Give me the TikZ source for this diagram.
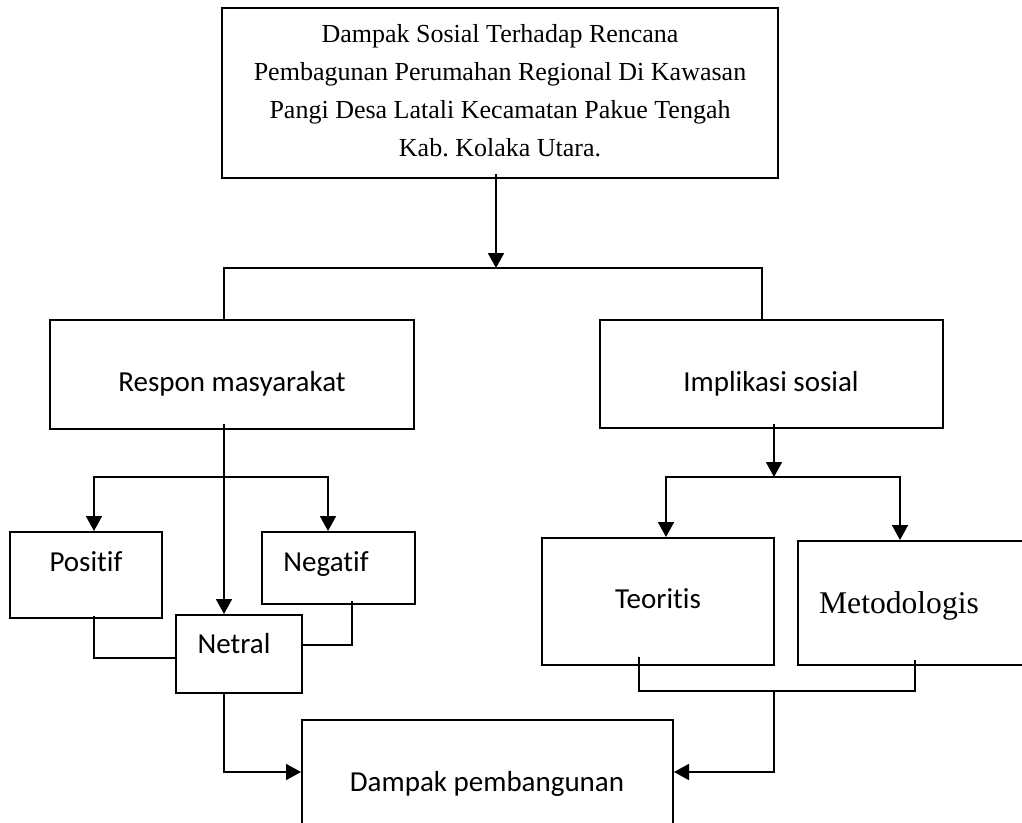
\documentclass[tikz,border=0pt]{standalone}
\usepackage{fontspec}
\setmainfont{Liberation Serif}
\setsansfont[Ligatures=NoCommon]{Carlito}
\usetikzlibrary{arrows.meta}
\frenchspacing

\begin{document}
\begin{tikzpicture}[
    % GLOBAL CFG
    x=1pt, y=-1pt,
    >={Triangle[length=15pt, width=16pt]},
    % Styles
    box/.style={
        rectangle,
        draw,
        line width=2pt,
        inner sep=0pt,
    },
    sanstxt/.style={
        font=\sffamily\fontsize{29}{34}\selectfont,
        anchor=base,
        inner sep=0pt,
    },
    seriftxt/.style={
        font=\fontsize{26}{38}\selectfont,
        align=center,
        inner sep=0pt,
    },
    conn/.style={
        line width=1.8pt,
    },
]

    % Page frame
    \useasboundingbox (0,0) rectangle (1022,822);
    \clip (0,0) rectangle (1022,822);

    % Draw the boxes
    \node [box, minimum width=556pt, minimum height=170pt] (top) at (500,93) {};
    \node [box, minimum width=364pt, minimum height=109pt] (respon) at (232,374.5) {};
    \node [box, minimum width=343pt, minimum height=108pt] (implikasi) at (771.5,374) {};
    \node [box, minimum width=152pt, minimum height=86pt] (positif) at (86,575) {};
    \node [box, minimum width=153pt, minimum height=72pt] (negatif) at (338.5,568) {};
    \node [box, minimum width=126pt, minimum height=78pt] (netral) at (239,654) {};
    \node [box, minimum width=232pt, minimum height=127pt] (teoritis) at (658,601.5) {};
    \node [box, minimum width=242pt, minimum height=124pt] (metodologis) at (919,603) {};
    \node [box, minimum width=371pt, minimum height=130pt] (dampak) at (487.5,785) {};

    % Texts of the boxes
    \node [seriftxt] (top-txt) at (500,91) {Dampak Sosial Terhadap Rencana\\
        Pembagunan Perumahan Regional Di Kawasan\\
        Pangi Desa Latali Kecamatan Pakue Tengah\\
        Kab. Kolaka Utara.};
    \node [sanstxt] (respon-txt) at (232,391) {Respon masyarakat};
    \node [sanstxt] (implikasi-txt) at (771,391) {Implikasi sosial};
    \node [sanstxt] (positif-txt) at (86,571) {Positif};
    \node [sanstxt] (negatif-txt) at (326,571) {Negatif};
    \node [sanstxt] (netral-txt) at (234,653) {Netral};
    \node [sanstxt] (teoritis-txt) at (658,608) {Teoritis};
    \node [sanstxt, font=\fontsize{31.6}{36}\selectfont] (metodologis-txt) at (899,613) {Metodologis};
    \node [sanstxt] (dampak-txt) at (487,791) {Dampak pembangunan};

    % Split points
    \coordinate (brL) at (224,268);
    \coordinate (brM) at (496,268);
    \coordinate (brR) at (762,268);
    \coordinate (rb) at (224,477);
    \coordinate (ib) at (774,477);
    \coordinate (jn) at (774,691);

    % Top to the two branches
    \draw [->, conn] ([xshift=-4pt, yshift=5pt]top.south) -- (brM);
    \draw [conn] (brL |- respon.north) -- (brL) -- (brR) -- (brR |- implikasi.north);

    % Respon masyarakat
    \draw [->, conn] ([xshift=-8pt, yshift=6pt]respon.south) -- ([xshift=-15pt]netral.north);
    \draw [<->, conn] ([xshift=8pt]positif.north) |- (rb) -| ([xshift=-10.5pt]negatif.north);
    \draw [conn] ([xshift=8pt, yshift=3pt]positif.south) |- ([yshift=-4pt]netral.west);
    \draw [conn] ([xshift=13.5pt, yshift=4pt]negatif.south) |- ([yshift=9pt]netral.east);
    \draw [->, conn] ([xshift=-15pt]netral.south) |- ([yshift=13pt]dampak.west);

    % Implikasi sosial
    \draw [->, conn] ([xshift=2.5pt, yshift=5pt]implikasi.south) -- (ib);
    \draw [<->, conn] ([xshift=8pt]teoritis.north) |- (ib) -| ([xshift=-19pt]metodologis.north);
    \draw [conn] ([xshift=-19pt, yshift=9pt]teoritis.south) |- (jn) -| ([xshift=-4pt, yshift=6pt]metodologis.south);
    \draw [->, conn] (jn) |- ([yshift=13pt]dampak.east);

\end{tikzpicture}
\end{document}
